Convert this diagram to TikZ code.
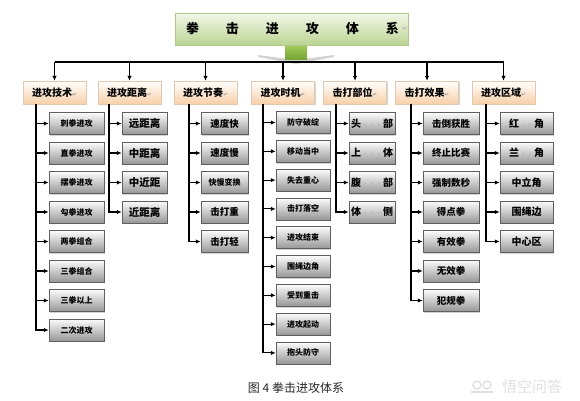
\documentclass[tikz,border=0pt]{standalone}
\usepackage{fontspec}
\setmainfont{Noto Sans CJK SC}
\newfontfamily\symf{DejaVu Sans}
\usetikzlibrary{shadows,arrows.meta,calc}
\definecolor{hdrbot}{RGB}{247,208,168}
\definecolor{hdrline}{RGB}{225,200,175}
\definecolor{kidtop}{RGB}{252,252,252}
\definecolor{kidbot}{RGB}{150,150,150}
\definecolor{kidline}{RGB}{95,95,95}
\definecolor{ttop}{RGB}{242,246,232}
\definecolor{tbot}{RGB}{188,212,148}
\definecolor{tline}{RGB}{175,200,140}
\definecolor{sqtop}{RGB}{160,200,90}
\definecolor{sqbot}{RGB}{120,165,55}
\newcommand{\retmark}{{\symf\fontsize{5.5}{5.5}\selectfont\color{gray!80}↵}}
\newcommand{\gdots}{{\color{gray!60}\fontsize{6}{6}\selectfont\,·\,·\,·\,}}
\newcommand{\gdd}{{\color{gray!60}\fontsize{6}{6}\selectfont\,·\,·\,}}
\tikzset{
  shad/.style={drop shadow={shadow xshift=1.3pt,shadow yshift=-1.3pt,opacity=0.35}},
  titlebox/.style={draw=tline, top color=ttop, bottom color=tbot, minimum width=233pt, minimum height=32pt, inner sep=0pt, shad},
  hdrbox/.style={draw=hdrline, top color=white, bottom color=hdrbot, minimum width=63pt, minimum height=23pt, inner sep=0pt, font=\bfseries\fontsize{10}{10}\selectfont, shad},
  kidbox/.style={draw=kidline, line width=0.5pt, top color=kidtop, bottom color=kidbot, minimum height=22pt, inner sep=0pt, shad},
  link/.style={line width=1.1pt, -{Latex[length=5pt,width=4.5pt]}},
  plainline/.style={line width=1.1pt},
}
\begin{document}
\begin{tikzpicture}[x=1pt,y=-1pt]
\useasboundingbox (0,0) rectangle (580,400);
% title
\node[titlebox] (title) at (291.5,29) {};
\node[font=\bfseries\fontsize{13}{13}\selectfont, anchor=center] (ttext) at (292.5,29) {拳\hspace{27pt}击\hspace{27pt}进\hspace{27pt}攻\hspace{27pt}体\hspace{27pt}系};
\node[anchor=west, inner sep=0pt] (tret) at (ttext.east) {\retmark};
% connector shape under title
\fill[gray!35] (258,55) -- (296,60) -- (334,55) -- (334,57) -- (296,64) -- (258,57) -- cycle;
\shade[top color=sqtop, bottom color=sqbot] (285,46) rectangle (307,59);
% headers
\node[hdrbox] (h1) at (54.5,92.5) {进攻技术\retmark};
\node[hdrbox] (h2) at (129.5,92.5) {进攻距离\retmark};
\node[hdrbox] (h3) at (205.5,92.5) {进攻节奏\retmark};
\node[hdrbox] (h4) at (283,92.5) {进攻时机\retmark};
\node[hdrbox] (h5) at (355,92.5) {击打部位\retmark};
\node[hdrbox] (h6) at (427,92.5) {击打效果\retmark};
\node[hdrbox] (h7) at (503.5,92.5) {进攻区域\retmark};
\coordinate (bus) at (0,62);
\draw[plainline] (h1.north |- bus) -- (h7.north |- bus);
\foreach \k in {1,...,7} \draw[link] (h\k.north |- bus) -- (h\k.north);
% trunk x
\coordinate (t1) at (36,104);
\coordinate (t2) at (109,104);
\coordinate (t3) at (189,104);
\coordinate (t4) at (263,104);
\coordinate (t5) at (336,104);
\coordinate (t6) at (411,104);
\coordinate (t7) at (486,104);
% column 1
\foreach \t [count=\i] in {刺拳进攻,直拳进攻,摆拳进攻,勾拳进攻,两拳组合,三拳组合,三拳以上,二次进攻}
  \node[kidbox, minimum width=55pt, font=\bfseries\fontsize{8}{8}\selectfont] (a\i) at (76.5,{123.5+(\i-1)*29.5}) {\t};
% column 2
\foreach \t [count=\i] in {远距离,中距离,中近距,近距离}
  \node[kidbox, minimum width=45pt, font=\bfseries\fontsize{10.5}{10.5}\selectfont] (b\i) at (144.5,{123.5+(\i-1)*29.5}) {\t};
% column 3
\foreach \t [count=\i] in {速度快,速度慢,{\fontsize{8}{8}\selectfont 快慢变换},击打重,击打轻}
  \node[kidbox, minimum width=47pt, font=\bfseries\fontsize{9.5}{9.5}\selectfont] (c\i) at (224.5,{123.5+(\i-1)*29.5}) {\t};
% column 4
\foreach \t [count=\i] in {防守破绽,移动当中,失去重心,击打落空,进攻结束,围绳边角,受到重击,进攻起动,抱头防守}
  \node[kidbox, minimum width=54pt, font=\bfseries\fontsize{8}{8}\selectfont] (d\i) at (303,{122.5+(\i-1)*28.8}) {\t};
% column 5
\foreach \t [count=\i] in {头\gdots 部,上\gdots 体,腹\gdots 部,体\gdots 侧}
  \node[kidbox, minimum width=46pt, font=\bfseries\fontsize{10}{10}\selectfont] (e\i) at (372,{123.5+(\i-1)*29.5}) {\t};
% column 6
\foreach \t [count=\i] in {击倒获胜,终止比赛,强制数秒,得点拳,有效拳,无效拳,犯规拳}
  \node[kidbox, minimum width=56pt, font=\bfseries\fontsize{9.5}{9.5}\selectfont] (f\i) at (451,{123.5+(\i-1)*29.5}) {\t};
% column 7
\foreach \t [count=\i] in {红\gdd 角,兰\gdd 角,中立角,围绳边,中心区}
  \node[kidbox, minimum width=53pt, font=\bfseries\fontsize{10}{10}\selectfont] (g\i) at (526.5,{123.5+(\i-1)*29.5}) {\t};
% trunks and branches
\draw[link] (h1.south -| t1) |- (a8.west);
\foreach \i in {1,...,7} \draw[link] (a\i.west -| t1) -- (a\i.west);
\draw[link] (h2.south -| t2) |- (b4.west);
\foreach \i in {1,...,3} \draw[link] (b\i.west -| t2) -- (b\i.west);
\draw[link] (h3.south -| t3) |- (c5.west);
\foreach \i in {1,...,4} \draw[link] (c\i.west -| t3) -- (c\i.west);
\draw[link] (h4.south -| t4) |- (d9.west);
\foreach \i in {1,...,8} \draw[link] (d\i.west -| t4) -- (d\i.west);
\draw[link] (h5.south -| t5) |- (e4.west);
\foreach \i in {1,...,3} \draw[link] (e\i.west -| t5) -- (e\i.west);
\draw[link] (h6.south -| t6) |- (f7.west);
\foreach \i in {1,...,6} \draw[link] (f\i.west -| t6) -- (f\i.west);
\draw[link] (h7.south -| t7) |- (g5.west);
\foreach \i in {1,...,4} \draw[link] (g\i.west -| t7) -- (g\i.west);
% caption
\node[font=\fontsize{12}{12}\selectfont, text=black!85] (cap) at (296,388) {图 4 拳击进攻体系};
% watermark
\node[font=\fontsize{15}{15}\selectfont, text=gray!25] (wm) at (532,387) {悟空问答};
\draw[gray!25, line width=1.4pt] (477,385) circle (4) (487,385) circle (4);
\draw[gray!25, line width=1.4pt] (471,392) -- (493,392);
\end{tikzpicture}
\end{document}
